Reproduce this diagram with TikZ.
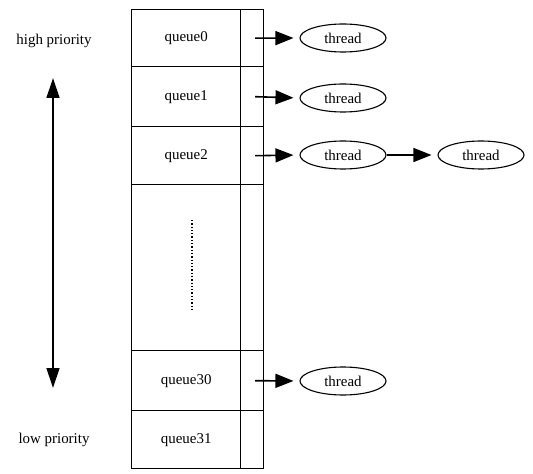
\documentclass[tikz,border=0pt]{standalone}
\usepackage{fontspec}
\setmainfont{Liberation Serif}
\usetikzlibrary{arrows.meta,shapes.geometric}
\begin{document}
\begin{tikzpicture}[x=1bp,y=-1bp,
  txt/.style={font=\fontsize{15}{17}\selectfont},
  cell/.style={draw,line width=1.4bp,minimum width=109bp,inner sep=0pt,anchor=north west,txt},
  ptr/.style={draw,line width=1.4bp,minimum width=23bp,inner sep=0pt,anchor=north west},
  thr/.style={draw,ellipse,line width=1.1bp,minimum width=86bp,minimum height=28bp,inner sep=0pt,txt},
  link/.style={line width=1.6bp,-{Triangle[length=18bp,width=14bp]},shorten >=6bp}]
\useasboundingbox (0,0) rectangle (533,474);
% queue table: left column holds the names, right column the list heads
\node[cell,minimum height=57bp]  (q0)  at (131,9)   {queue0};
\node[cell,minimum height=60bp]  (q1)  at (131,66)  {queue1};
\node[cell,minimum height=58bp]  (q2)  at (131,126) {queue2};
\node[cell,minimum height=166bp] (qm)  at (131,184) {};
\node[cell,minimum height=60bp]  (q30) at (131,350) {queue30};
\node[cell,minimum height=58bp]  (q31) at (131,410) {queue31};
\node[ptr,minimum height=57bp]  (p0)  at (240,9)   {};
\node[ptr,minimum height=60bp]  (p1)  at (240,66)  {};
\node[ptr,minimum height=58bp]  (p2)  at (240,126) {};
\node[ptr,minimum height=166bp] (pm)  at (240,184) {};
\node[ptr,minimum height=60bp]  (p30) at (240,350) {};
\node[ptr,minimum height=58bp]  (p31) at (240,410) {};
% elided queues
\coordinate (d1) at ([yshift=-36bp]qm.north -| 192,0);
\coordinate (d2) at ([yshift=42bp]qm.south -| 192,0);
\draw[line width=1.3bp,dotted] (d1) -- (d2);
% threads waiting in the queues
\node[thr] (t0)  at (343,38)  {thread};
\node[thr] (t1)  at (343,98)  {thread};
\node[thr] (t2)  at (343,155) {thread};
\node[thr] (t2b) at (481,155) {thread};
\node[thr] (t30) at (343,381) {thread};
\draw[link] ([xshift=3bp]p0.center)  -- (t0.west);
\draw[link] ([xshift=3bp]p1.center)  -- (t1.west);
\draw[link] ([xshift=3bp]p2.center)  -- (t2.west);
\draw[link] (t2.east)  -- (t2b.west);
\draw[link] ([xshift=3bp]p30.center) -- (t30.west);
% priority scale
\node[txt] (hi) at (54,41)  {high priority};
\node[txt] (lo) at (54,440) {low priority};
\coordinate (atop) at (53,78);
\coordinate (abot) at (53,388);
\draw[line width=1.3bp,{Triangle[length=20bp,width=13bp]}-{Triangle[length=20bp,width=13bp]}] (atop) -- (abot);
\end{tikzpicture}
\end{document}
